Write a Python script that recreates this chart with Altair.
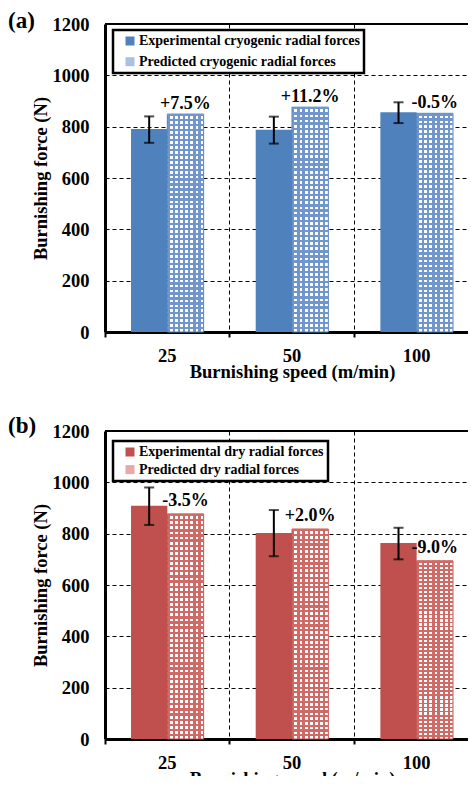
import altair as alt
import pandas as pd

speeds = ["25", "50", "100"]
kinds = ["Experimental", "Predicted"]
y_ticks = [0, 200, 400, 600, 800, 1000, 1200]
panel_tags = ["(a)", "(b)"]

# (a) cryogenic
cryo_names = ["Experimental cryogenic radial forces", "Predicted cryogenic radial forces"]
cryo_exp = [791, 788, 856]
cryo_exp_lo = [737, 734, 814]
cryo_exp_hi = [840, 839, 895]
cryo_pred = [849, 876, 852]
cryo_labels = ["+7.5%", "+11.2%", "-0.5%"]

# (b) dry
dry_names = ["Experimental dry radial forces", "Predicted dry radial forces"]
dry_exp = [909, 803, 764]
dry_exp_lo = [834, 712, 700]
dry_exp_hi = [980, 892, 823]
dry_pred = [877, 818, 694]
dry_labels = ["-3.5%", "+2.0%", "-9.0%"]

FONT = "Liberation Serif"
W, H = 374, 308


def stripes(line, bg, n, frac, horizontal):
    stops = []
    for i in range(n):
        a = i / n
        b = (i + frac) / n
        c = (i + 1) / n
        stops += [
            {"offset": a, "color": line},
            {"offset": b, "color": line},
            {"offset": b, "color": bg},
            {"offset": c, "color": bg},
        ]
    g = {"gradient": "linear", "stops": stops, "x1": 0, "y1": 0}
    if horizontal:
        g.update({"x2": 1, "y2": 0})
    else:
        g.update({"x2": 0, "y2": 1})
    return g


def panel(names, exp, lo, hi, pred, labels, tag, solid, light, line, legend_row, legend_y,
          text_dy, tag_y):
    bars = pd.DataFrame({
        "speed": speeds * 2,
        "kind": [kinds[0]] * 3 + [kinds[1]] * 3,
        "name": [names[0]] * 3 + [names[1]] * 3,
        "value": exp + pred,
    })
    err = pd.DataFrame({"speed": speeds, "kind": [kinds[0]] * 3, "lo": lo, "hi": hi})
    lab = pd.DataFrame({"speed": speeds, "kind": [kinds[1]] * 3, "value": pred, "label": labels})
    tagdf = pd.DataFrame({"tag": [tag]})
    topdf = pd.DataFrame({"top": [y_ticks[-1]]})

    x = alt.X("speed:N", sort=speeds,
              scale=alt.Scale(domain=speeds, paddingInner=0, paddingOuter=0),
              axis=alt.Axis(title="Burnishing speed (m/min)", bandPosition=0,
                            labelAngle=0, grid=True, gridDash=[4, 3], gridColor="black",
                            gridWidth=1, gridOpacity=1, ticks=True, tickSize=5, tickColor="black",
                            tickWidth=2, labelPadding=9, titlePadding=-2, domainWidth=3,
                            domainColor="black"))
    xo = alt.XOffset("kind:N", scale=alt.Scale(domain=kinds, paddingInner=0, paddingOuter=0.717))

    def yenc(field):
        return alt.Y(field, type="quantitative",
                     scale=alt.Scale(domain=[0, 1200], nice=False, zero=True),
                     axis=alt.Axis(title="Burnishing force (N)", values=y_ticks, format="d",
                                   grid=True, gridDash=[4, 3], gridColor="black", gridWidth=1,
                                   gridOpacity=1, ticks=False, labelPadding=16, titlePadding=2,
                                   domainWidth=3, domainColor="black"))

    base = alt.Chart(bars).mark_bar().encode(
        x=x, xOffset=xo, y=yenc("value"),
        color=alt.Color("name:N", scale=alt.Scale(domain=names, range=[solid, light]),
                        legend=alt.Legend(title=None, orient="none", legendX=8, legendY=legend_y,
                                          padding=4, rowPadding=legend_row, symbolOffset=6,
                                          labelOffset=2, symbolType="square", symbolSize=81,
                                          symbolStrokeWidth=0, labelLimit=400,
                                          strokeColor="black", fillColor="white",
                                          labelFont=FONT, labelFontWeight="bold",
                                          labelFontSize=14, labelColor="black")),
    )
    predonly = alt.Chart(bars).transform_filter(alt.datum.kind == kinds[1])
    pat1 = predonly.mark_bar(fill=stripes(line, "white", 7, 0.45, True), stroke=solid,
                             strokeWidth=1).encode(x=x, xOffset=xo, y=yenc("value"))
    pat2 = predonly.mark_bar(fill=stripes(line, "rgba(255,255,255,0)", 44, 0.45, False)).encode(
        x=x, xOffset=xo, y=yenc("value"))

    rule = alt.Chart(err).mark_rule(color="black", strokeWidth=2).encode(
        x=x, xOffset=xo, y=yenc("lo"), y2="hi")
    cap_lo = alt.Chart(err).mark_tick(color="black", thickness=2, size=10).encode(
        x=x, xOffset=xo, y=yenc("lo"))
    cap_hi = alt.Chart(err).mark_tick(color="black", thickness=2, size=10).encode(
        x=x, xOffset=xo, y=yenc("hi"))
    txt = alt.Chart(lab).mark_text(font=FONT, fontWeight="bold", fontSize=18, baseline="alphabetic",
                                   dy=text_dy, color="black").encode(
        x=x, xOffset=xo, y=yenc("value"), text="label:N")
    tagm = alt.Chart(tagdf).mark_text(font=FONT, fontWeight="bold", fontSize=23, align="left",
                                      baseline="middle", color="black").encode(
        x=alt.value(-97), y=alt.value(tag_y), text="tag:N")
    topline = alt.Chart(topdf).mark_rule(color="black", strokeWidth=2).encode(y=yenc("top"))

    return alt.layer(base, pat1, pat2, rule, cap_lo, cap_hi, txt, topline, tagm).properties(
        width=W, height=H)


pa = panel(cryo_names, cryo_exp, cryo_exp_lo, cryo_exp_hi, cryo_pred, cryo_labels, panel_tags[0],
           "#4F81BD", "#A9C1E3", "#7096CC", 6.7, 6, -5, -3)
pb = panel(dry_names, dry_exp, dry_exp_lo, dry_exp_hi, dry_pred, dry_labels, panel_tags[1],
           "#C0504D", "#E6A9A8", "#D06A67", 3.6, 10, -8, -5)

chart = alt.vconcat(pa, pb, spacing=34).resolve_scale(color="independent").resolve_legend(
    color="independent").properties(
    padding={"left": 0, "top": 2, "right": -12, "bottom": -12}
).configure(font=FONT).configure_axis(
    labelFont=FONT, labelFontWeight="bold", labelFontSize=18.5, labelColor="black",
    titleFont=FONT, titleFontWeight="bold", titleFontSize=18.5, titleColor="black"
).configure_view(stroke=None)

chart = chart.configure_legend(strokeWidth=2.5)

chart.save("out.html", embed_options={"renderer": "svg", "actions": False})
